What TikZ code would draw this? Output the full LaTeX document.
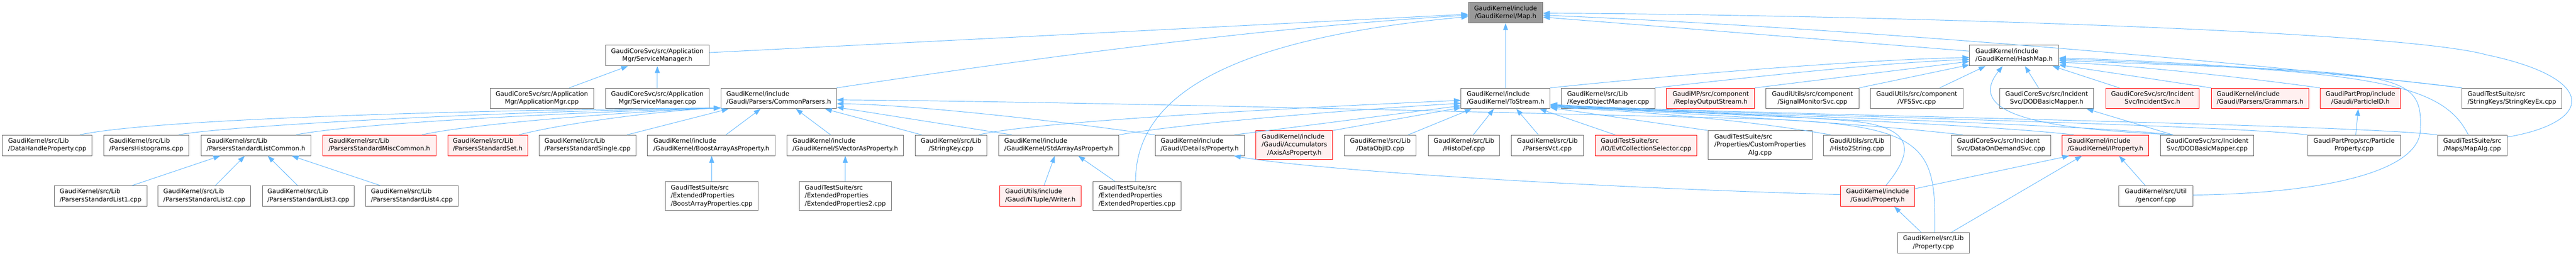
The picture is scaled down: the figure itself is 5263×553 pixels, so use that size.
\documentclass[tikz,border=0pt]{standalone}
\usepackage{fontspec}
\setmainfont{DejaVu Sans}
\usepackage{tikz}
\usetikzlibrary{arrows.meta}
\usetikzlibrary{calc}
\definecolor{edgeblue}{HTML}{63B8FF}
\definecolor{boxgray}{HTML}{666666}
\definecolor{focusfill}{HTML}{999999}
\definecolor{truncfill}{HTML}{FFF0F0}
\newcommand{\flab}[2]{\begin{tabular}{@{}l@{}}#1\\\multicolumn{1}{@{}c@{}}{#2}\end{tabular}}
\newcommand{\flabt}[3]{\begin{tabular}{@{}l@{}}#1\\#2\\\multicolumn{1}{@{}c@{}}{#3}\end{tabular}}
\tikzset{
	fnode/.style={draw=boxgray,fill=white,line width=0.75pt,inner sep=0pt,minimum height=42*0.75pt,font=\fontsize{9.6pt}{12.2pt}\selectfont},
	bw/.style={minimum width=#1*0.75pt},
	tall/.style={minimum height=59*0.75pt},
	trunc/.style={draw=red,fill=truncfill},
	focus/.style={fill=focusfill},
	incl/.style={draw=edgeblue,line width=0.75pt,-{Triangle[length=10.5pt,width=7.5pt]}}
}

\begin{document}
\begin{tikzpicture}[x=0.75pt,y=-0.75pt]
\useasboundingbox (0,0) rectangle (5263,553);
\draw (3076,26) node[fnode,focus,bw=152] (map) {\flab{GaudiKernel/include}{/GaudiKernel/Map.h}};
\draw (1343,113.5) node[fnode,bw=212] (svcmgrh) {\flab{GaudiCoreSvc/src/Application}{Mgr/ServiceManager.h}};
\draw (4115,113.5) node[fnode,bw=182] (hashmap) {\flab{GaudiKernel/include}{/GaudiKernel/HashMap.h}};
\draw (1107,201) node[fnode,bw=212] (appmgr) {\flab{GaudiCoreSvc/src/Application}{Mgr/ApplicationMgr.cpp}};
\draw (1343,201) node[fnode,bw=212] (svcmgrcpp) {\flab{GaudiCoreSvc/src/Application}{Mgr/ServiceManager.cpp}};
\draw (1591,201) node[fnode,bw=236] (cparsers) {\flab{GaudiKernel/include}{/Gaudi/Parsers/CommonParsers.h}};
\draw (3076,201) node[fnode,bw=182] (tostream) {\flab{GaudiKernel/include}{/GaudiKernel/ToStream.h}};
\draw (3285.5,201) node[fnode,bw=191] (keyedobj) {\flab{GaudiKernel/src/Lib}{/KeyedObjectManager.cpp}};
\draw (3495,201) node[fnode,trunc,bw=180] (replay) {\flab{GaudiMP/src/component}{/ReplayOutputStream.h}};
\draw (3703,201) node[fnode,bw=190] (sigmon) {\flab{GaudiUtils/src/component}{/SignalMonitorSvc.cpp}};
\draw (3916,201) node[fnode,bw=190] (vfssvc) {\flab{GaudiUtils/src/component}{/VFSSvc.cpp}};
\draw (4181.5,201) node[fnode,bw=191] (dodmaph) {\flab{GaudiCoreSvc/src/Incident}{Svc/DODBasicMapper.h}};
\draw (4397.5,201) node[fnode,trunc,bw=191] (incsvc) {\flab{GaudiCoreSvc/src/Incident}{Svc/IncidentSvc.h}};
\draw (4617.5,201) node[fnode,trunc,bw=199] (grammars) {\flab{GaudiKernel/include}{/Gaudi/Parsers/Grammars.h}};
\draw (4822.5,201) node[fnode,trunc,bw=165] (partid) {\flab{GaudiPartProp/include}{/Gaudi/ParticleID.h}};
\draw (5132,201) node[fnode,bw=204] (strkeyex) {\flab{GaudiTestSuite/src}{/StringKeys/StringKeyEx.cpp}};
\draw (96.5,297) node[fnode,bw=183] (dhprop) {\flab{GaudiKernel/src/Lib}{/DataHandleProperty.cpp}};
\draw (299,297) node[fnode,bw=174] (phisto) {\flab{GaudiKernel/src/Lib}{/ParsersHistograms.cpp}};
\draw (523,297) node[fnode,bw=224] (plistc) {\flab{GaudiKernel/src/Lib}{/ParsersStandardListCommon.h}};
\draw (775,297) node[fnode,trunc,bw=232] (pmiscc) {\flab{GaudiKernel/src/Lib}{/ParsersStandardMiscCommon.h}};
\draw (996.5,297) node[fnode,trunc,bw=163] (pset) {\flab{GaudiKernel/src/Lib}{/ParsersStandardSet.h}};
\draw (1200.5,297) node[fnode,bw=197] (psingle) {\flab{GaudiKernel/src/Lib}{/ParsersStandardSingle.cpp}};
\draw (1453.5,297) node[fnode,bw=261] (boostap) {\flab{GaudiKernel/include}{/GaudiKernel/BoostArrayAsProperty.h}};
\draw (1727,297) node[fnode,bw=238] (svecap) {\flab{GaudiKernel/include}{/GaudiKernel/SVectorAsProperty.h}};
\draw (1943,297) node[fnode,bw=146] (strkey) {\flab{GaudiKernel/src/Lib}{/StringKey.cpp}};
\draw (2163,297) node[fnode,bw=246] (stdarrap) {\flab{GaudiKernel/include}{/GaudiKernel/StdArrayAsProperty.h}};
\draw (2451,297) node[fnode,bw=182] (detprop) {\flab{GaudiKernel/include}{/Gaudi/Details/Property.h}};
\draw (2644.5,296.5) node[fnode,trunc,tall,bw=157] (axisap) {\flabt{GaudiKernel/include}{/Gaudi/Accumulators}{/AxisAsProperty.h}};
\draw (2820,297) node[fnode,bw=146] (dataobjid) {\flab{GaudiKernel/src/Lib}{/DataObjID.cpp}};
\draw (2991,297) node[fnode,bw=146] (histodef) {\flab{GaudiKernel/src/Lib}{/HistoDef.cpp}};
\draw (3161.5,297) node[fnode,bw=147] (pvct) {\flab{GaudiKernel/src/Lib}{/ParsersVct.cpp}};
\draw (3363,297) node[fnode,trunc,bw=208] (evtsel) {\flab{GaudiTestSuite/src}{/IO/EvtCollectionSelector.cpp}};
\draw (3596,296.5) node[fnode,tall,bw=212] (custprop) {\flabt{GaudiTestSuite/src}{/Properties/CustomProperties}{Alg.cpp}};
\draw (3794,297) node[fnode,bw=136] (h2str) {\flab{GaudiUtils/src/Lib}{/Histo2String.cpp}};
\draw (4088.5,297) node[fnode,bw=203] (dodsvc) {\flab{GaudiCoreSvc/src/Incident}{Svc/DataOnDemandSvc.cpp}};
\draw (4301.5,297) node[fnode,trunc,bw=177] (iprop) {\flab{GaudiKernel/include}{/GaudiKernel/IProperty.h}};
\draw (4509.5,297) node[fnode,bw=191] (dodmapcpp) {\flab{GaudiCoreSvc/src/Incident}{Svc/DODBasicMapper.cpp}};
\draw (4809.5,297) node[fnode,bw=189] (ppropcpp) {\flab{GaudiPartProp/src/Particle}{Property.cpp}};
\draw (5051,297) node[fnode,bw=142] (mapalg) {\flab{GaudiTestSuite/src}{/Maps/MapAlg.cpp}};
\draw (205.5,400.5) node[fnode,bw=189] (plist1) {\flab{GaudiKernel/src/Lib}{/ParsersStandardList1.cpp}};
\draw (417.5,400.5) node[fnode,bw=189] (plist2) {\flab{GaudiKernel/src/Lib}{/ParsersStandardList2.cpp}};
\draw (630,400.5) node[fnode,bw=188] (plist3) {\flab{GaudiKernel/src/Lib}{/ParsersStandardList3.cpp}};
\draw (841.5,400.5) node[fnode,bw=189] (plist4) {\flab{GaudiKernel/src/Lib}{/ParsersStandardList4.cpp}};
\draw (1454,400.5) node[fnode,tall,bw=190] (boostprops) {\flabt{GaudiTestSuite/src}{/ExtendedProperties}{/BoostArrayProperties.cpp}};
\draw (1727,400.5) node[fnode,tall,bw=188] (extprops2) {\flabt{GaudiTestSuite/src}{/ExtendedProperties}{/ExtendedProperties2.cpp}};
\draw (2125.5,400.5) node[fnode,trunc,bw=167] (ntwriter) {\flab{GaudiUtils/include}{/Gaudi/NTuple/Writer.h}};
\draw (2323,400.5) node[fnode,tall,bw=180] (extprops) {\flabt{GaudiTestSuite/src}{/ExtendedProperties}{/ExtendedProperties.cpp}};
\draw (3836,400.5) node[fnode,trunc,bw=152] (gprop) {\flab{GaudiKernel/include}{/Gaudi/Property.h}};
\draw (4404.5,400.5) node[fnode,bw=151] (genconf) {\flab{GaudiKernel/src/Util}{/genconf.cpp}};
\draw (3950,496) node[fnode,bw=146] (propcpp) {\flab{GaudiKernel/src/Lib}{/Property.cpp}};

\draw[incl] ($(svcmgrh.east)+(0,-6)$) -- ($(map.west)+(0,3)$);
\draw[incl] (cparsers.north east) .. controls (2150,113) and (2600,55) .. ($(map.west)+(0,5)$);
\draw[incl] ($(extprops.north)+(-3,0)$) .. controls (2320,200) and (2500,80) .. ($(map.west)+(0,8)$);
\draw[incl] (tostream.north) -- (map.south);
\draw[incl] ($(hashmap.west)+(0,-9)$) -- ($(map.east)+(0,9)$);
\draw[incl] (strkeyex.north west) .. controls (4530,120) and (3752,56) .. ($(map.east)+(0,5)$);
\draw[incl] ($(mapalg.east)+(0,-17)$) .. controls (5300,250) and (5310,160) .. (5080,112) .. controls (4880,56) and (3600,28) .. ($(map.east)+(0,1)$);

\draw[incl] (tostream.north east) .. controls (3400,155) and (3800,122) .. ($(hashmap.west)+(0,4)$);
\draw[incl] (keyedobj.north east) .. controls (3600,155) and (3850,128) .. ($(hashmap.west)+(0,8)$);
\draw[incl] (replay.north east) -- ($(hashmap.west)+(0,12)$);
\draw[incl] (sigmon.north east) -- ($(hashmap.west)+(0,19)$);
\draw[incl] ($(vfssvc.north)+(47,0)$) -- ($(hashmap.south west)+(33,0)$);
\draw[incl] ($(dodmapcpp.north west)+(26,0)$) .. controls (4250,265) and (4000,250) .. ($(hashmap.south west)+(68,0)$);
\draw[incl] ($(dodmaph.north)+(-16.5,0)$) -- ($(hashmap.south)+(22,0)$);
\draw[incl] ($(incsvc.north)+(-67.5,0)$) -- ($(hashmap.south east)+(-13,0)$);
\draw[incl] (grammars.north west) -- ($(hashmap.east)+(0,19)$);
\draw[incl] (partid.north west) .. controls (4600,160) and (4350,132) .. ($(hashmap.east)+(0,14)$);
\draw[incl] (strkeyex.north west) .. controls (4800,150) and (4450,125) .. ($(hashmap.east)+(0,5)$);
\draw[incl] ($(mapalg.north)+(-8,0)$) .. controls (4990,170) and (4850,145) .. ($(hashmap.east)+(0,7)$);
\draw[incl] ($(genconf.east)+(0,-2)$) .. controls (4750,395) and (4950,350) .. (4945,260) .. controls (4950,140) and (4880,150) .. ($(hashmap.east)+(0,10)$);

\draw[incl] ($(dhprop.north)+(66.5,0)$) .. controls (300,245) and (900,225) .. ($(cparsers.south west)+(0,-2)$);
\draw[incl] ($(phisto.north)+(66,0)$) .. controls (450,258) and (1000,228) .. ($(cparsers.south west)+(0,-2)$);
\draw[incl] ($(plistc.north)+(82,0)$) .. controls (700,255) and (1100,232) .. ($(cparsers.south west)+(0,-2)$);
\draw[incl] ($(pmiscc.north)+(87,0)$) .. controls (950,255) and (1250,230) .. ($(cparsers.south west)+(0,-2)$);
\draw[incl] ($(pset.north)+(63.5,0)$) .. controls (1150,252) and (1350,226) .. ($(cparsers.south west)+(0,-2)$);
\draw[incl] ($(psingle.north)+(80.5,0)$) -- ($(cparsers.south west)+(16,0)$);
\draw[incl] ($(boostap.north)+(29.5,0)$) -- ($(cparsers.south)+(-37,0)$);
\draw[incl] ($(svecap.north)+(-30,0)$) -- ($(cparsers.south)+(35,0)$);
\draw[incl] ($(strkey.north)+(-60,0)$) -- ($(cparsers.south east)+(-24,0)$);
\draw[incl] ($(stdarrap.north)+(-96,0)$) -- ($(cparsers.east)+(0,18)$);
\draw[incl] (detprop.north west) .. controls (2150,245) and (1850,213) .. ($(cparsers.east)+(0,11)$);
\draw[incl] ($(propcpp.north)+(3,0)$) .. controls (3955,300) and (3940,255) .. (3600,243) .. controls (3000,228) and (2200,208) .. ($(cparsers.east)+(0,3)$);

\draw[incl] ($(strkey.north)+(57,0)$) .. controls (2100,250) and (2600,222) .. ($(tostream.west)+(0,4)$);
\draw[incl] (stdarrap.north east) .. controls (2400,255) and (2700,228) .. ($(tostream.west)+(0,10)$);
\draw[incl] ($(detprop.north)+(71,0)$) -- ($(tostream.west)+(0,15)$);
\draw[incl] (axisap.north east) -- ($(tostream.west)+(0,19)$);
\draw[incl] ($(dataobjid.north)+(57,0)$) -- ($(tostream.south west)+(22,0)$);
\draw[incl] ($(histodef.north)+(19,0)$) -- ($(tostream.south)+(-24,0)$);
\draw[incl] ($(pvct.north)+(-18.5,0)$) -- ($(tostream.south)+(22,0)$);
\draw[incl] ($(evtsel.north)+(-63,0)$) -- ($(tostream.south east)+(-22,0)$);
\draw[incl] (custprop.north west) -- ($(tostream.east)+(0,19)$);
\draw[incl] ($(h2str.north)+(-54,0)$) .. controls (3600,250) and (3400,230) .. ($(tostream.east)+(0,18)$);
\draw[incl] ($(gprop.north)+(17,0)$) .. controls (3910,310) and (3915,260) .. (3780,247) .. controls (3600,232) and (3350,226) .. ($(tostream.east)+(0,17)$);
\draw[incl] ($(dodsvc.north)+(-78.5,0)$) .. controls (3810,252) and (3450,232) .. ($(tostream.east)+(0,16)$);
\draw[incl] ($(iprop.north)+(-64.5,0)$) .. controls (4037,252) and (3450,232) .. ($(tostream.east)+(0,15)$);
\draw[incl] ($(dodmapcpp.north west)+(26,0)$) .. controls (4240,252) and (3450,232) .. ($(tostream.east)+(0,14)$);
\draw[incl] (ppropcpp.north west) .. controls (4515,252) and (3450,232) .. ($(tostream.east)+(0,13)$);
\draw[incl] (mapalg.north west) .. controls (4780,252) and (3450,232) .. ($(tostream.east)+(0,12)$);

\draw[incl] ($(dodmapcpp.north west)+(26,0)$) -- ($(dodmaph.south)+(81.5,0)$);
\draw[incl] ($(ppropcpp.north)+(3.5,0)$) -- ($(partid.south)+(-4.5,0)$);
\draw[incl] (svcmgrcpp.north) -- (svcmgrh.south);
\draw[incl] ($(appmgr.north)+(56,0)$) -- ($(svcmgrh.south)+(-60,0)$);
\draw[incl] (boostprops.north) -- (boostprops.north |- boostap.south);
\draw[incl] (extprops2.north) -- (svecap.south);
\draw[incl] ($(ntwriter.north)+(7.5,0)$) -- ($(stdarrap.south)+(-8,0)$);
\draw[incl] ($(extprops.north)+(-45,0)$) -- ($(stdarrap.south)+(40,0)$);
\draw[incl] ($(plist1.north)+(64.5,0)$) -- ($(plistc.south)+(-73,0)$);
\draw[incl] ($(plist2.north)+(22.5,0)$) -- ($(plistc.south)+(-23,0)$);
\draw[incl] ($(plist3.north)+(-22,0)$) -- ($(plistc.south)+(24,0)$);
\draw[incl] ($(plist4.north)+(-64.5,0)$) -- ($(plistc.south)+(73,0)$);
\draw[incl] ($(propcpp.north)+(-25,0)$) -- ($(gprop.south)+(34,0)$);
\draw[incl] ($(propcpp.north)+(37,0)$) -- ($(iprop.south)+(-48,0)$);
\draw[incl] ($(gprop.east)+(0,-15)$) -- ($(iprop.south)+(-74,0)$);
\draw[incl] ($(genconf.north)+(-21.5,0)$) -- ($(iprop.south)+(28,0)$);
\draw[incl] ($(gprop.west)+(0,-3)$) .. controls (3300,385) and (2700,350) .. ($(detprop.south)+(70,0)$);
\end{tikzpicture}
\end{document}
